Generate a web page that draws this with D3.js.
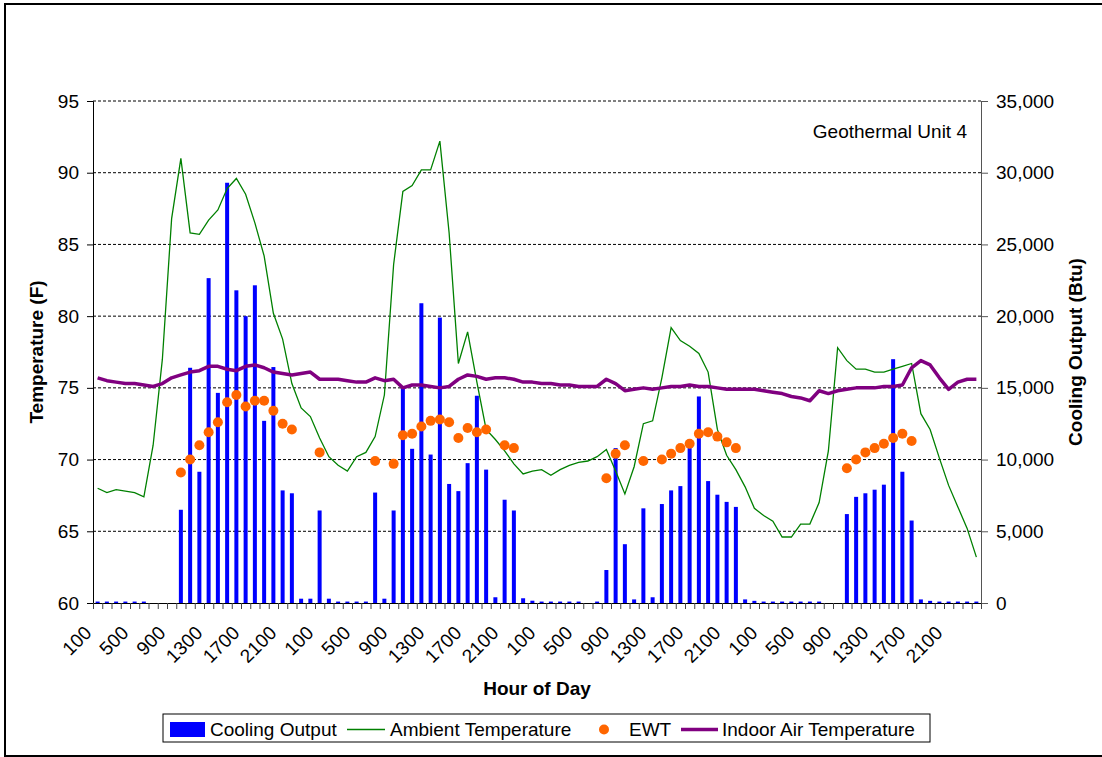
<!DOCTYPE html>
<html>
<head>
<meta charset="utf-8">
<script src="https://cdn.jsdelivr.net/npm/d3@7"></script>
<style>
  body { margin: 0; background: #fff; }
  svg text { font-family: "Liberation Sans", Arial, sans-serif; }
</style>
</head>
<body>
<script>
// hours of the day shown on the x axis (4 days, hourly)
var hourOfDay = [100, 200, 300, 400, 500, 600, 700, 800, 900, 1000, 1100, 1200,
                 1300, 1400, 1500, 1600, 1700, 1800, 1900, 2000, 2100, 2200, 2300, 2400];
var hours = [].concat(hourOfDay, hourOfDay, hourOfDay, hourOfDay);

var tempTicks = [60, 65, 70, 75, 80, 85, 90, 95];
var btuTicks = [0, 5000, 10000, 15000, 20000, 25000, 30000, 35000];

// Cooling Output (Btu)
var coolingOutput = [
  100, 100, 100, 100, 100, 100, 0, 0, 0, 6500, 16400, 9150, 22650, 14650, 29300, 21800, 20000, 22150, 12700, 16450, 7850, 7650, 300, 300,
  6450, 300, 100, 100, 100, 100, 7700, 300, 6450, 15100, 10750, 20900, 10350, 19900, 8300, 7800, 9750, 14450, 9300, 400, 7200, 6450, 330, 160,
  100, 100, 100, 100, 100, 0, 100, 2300, 10800, 4100, 250, 6600, 400, 6900, 7850, 8150, 10800, 14400, 8500, 7550, 7050, 6700, 250, 150,
  100, 100, 100, 100, 100, 100, 100, 0, 0, 6200, 7400, 7650, 7900, 8250, 17000, 9150, 5750, 250, 150, 100, 100, 100, 100, 100
];

// Ambient Temperature (F)
var ambientTemp = [
  68.0, 67.7, 67.9, 67.8, 67.7, 67.4, 71.0, 77.0, 86.8, 91.0, 85.8, 85.7, 86.7, 87.4, 88.9, 89.6, 88.5, 86.5, 84.2, 80.2, 78.4, 75.3, 73.6, 73.0,
  71.5, 70.2, 69.6, 69.2, 70.2, 70.5, 71.6, 74.5, 83.6, 88.7, 89.1, 90.2, 90.2, 92.2, 85.8, 76.7, 78.9, 75.4, 72.1, 71.4, 70.6, 69.7, 69.0, 69.2,
  69.3, 68.9, 69.3, 69.6, 69.8, 69.9, 70.2, 70.7, 69.2, 67.6, 69.5, 72.5, 72.7, 75.7, 79.2, 78.3, 77.9, 77.4, 76.1, 72.1, 70.3, 69.3, 68.1, 66.6,
  66.1, 65.7, 64.6, 64.6, 65.5, 65.5, 67.0, 70.6, 77.8, 76.9, 76.3, 76.3, 76.1, 76.1, 76.3, 76.5, 76.7, 73.2, 72.1, 70.1, 68.2, 66.7, 65.2, 63.2
];

// EWT (F), null where the unit was off
var ewt = [
  null, null, null, null, null, null, null, null, null, 69.1, 70.0, 71.0, 71.9, 72.6, 74.0, 74.5, 73.7, 74.1, 74.1, 73.4, 72.5, 72.1, null, null,
  70.5, null, null, null, null, null, 69.9, null, 69.7, 71.7, 71.8, 72.3, 72.7, 72.8, 72.6, 71.5, 72.2, 71.9, 72.1, null, 71.0, 70.8, null, null,
  null, null, null, null, null, null, null, 68.7, 70.4, 71.0, null, 69.9, null, 70.0, 70.4, 70.8, 71.1, 71.8, 71.9, 71.6, 71.2, 70.8, null, null,
  null, null, null, null, null, null, null, null, null, 69.4, 70.0, 70.5, 70.8, 71.1, 71.5, 71.8, 71.3, null, null, null, null, null, null, null
];

// Indoor Air Temperature (F)
var indoorTemp = [
  75.7, 75.5, 75.4, 75.3, 75.3, 75.2, 75.1, 75.3, 75.7, 75.9, 76.1, 76.2, 76.5, 76.5, 76.3, 76.2, 76.5, 76.6, 76.4, 76.1, 76.0, 75.9, 76.0, 76.1,
  75.6, 75.6, 75.6, 75.5, 75.4, 75.4, 75.7, 75.5, 75.6, 75.0, 75.2, 75.2, 75.1, 75.0, 75.1, 75.6, 75.9, 75.8, 75.6, 75.7, 75.7, 75.6, 75.4, 75.4,
  75.3, 75.3, 75.2, 75.2, 75.1, 75.1, 75.1, 75.6, 75.3, 74.8, 74.9, 75.0, 74.9, 75.0, 75.1, 75.1, 75.2, 75.1, 75.1, 75.0, 74.9, 74.9, 74.9, 74.9,
  74.8, 74.7, 74.6, 74.4, 74.3, 74.1, 74.8, 74.6, 74.8, 74.9, 75.0, 75.0, 75.0, 75.1, 75.1, 75.2, 76.4, 76.9, 76.6, 75.7, 74.9, 75.4, 75.6, 75.6
];

var width = 1102,
	height = 757;

var plotLeft = 93, plotRight = 981, plotTop = 101, plotBottom = 603;
var font = 19;

var svg = d3.select("body").append("svg")
	.attr("width", width)
	.attr("height", height);

// outer chart border
svg.append("rect")
	.attr("x", 5).attr("y", 4)
	.attr("width", 1102).attr("height", 752)
	.attr("fill", "none")
	.attr("stroke", "#000")
	.attr("stroke-width", 2);

var idx = d3.range(hours.length);

var xScale = d3.scaleBand()
	.domain(idx)
	.range([plotLeft, plotRight])
	.padding(0);

var xTick = d3.scaleLinear()
	.domain([0, hours.length])
	.range([plotLeft, plotRight]);

var yTemp = d3.scaleLinear()
	.domain([60, 95])
	.range([plotBottom, plotTop]);

var yBtu = d3.scaleLinear()
	.domain([0, 35000])
	.range([plotBottom, plotTop]);

function cx(i){
	return xScale(i) + xScale.bandwidth() / 2;
}

// gridlines
svg.selectAll(".grid")
	.data(tempTicks.slice(1))
	.enter()
	.append("line")
		.attr("class", "grid")
		.attr("x1", plotLeft)
		.attr("x2", plotRight)
		.attr("y1", function(d){ return yTemp(d); })
		.attr("y2", function(d){ return yTemp(d); })
		.attr("stroke", "#000")
		.attr("stroke-width", 1)
		.attr("stroke-dasharray", "3,2");

// bars
svg.selectAll(".bar")
	.data(coolingOutput)
	.enter()
	.append("rect")
		.attr("class", "bar")
		.attr("x", function(d, i){ return cx(i) - 2; })
		.attr("y", function(d){ return yBtu(d); })
		.attr("width", 4)
		.attr("height", function(d){ return plotBottom - yBtu(d); })
		.attr("fill", "#0000FF");

// ambient line
svg.append("path")
	.datum(ambientTemp)
	.attr("d", d3.line()
		.x(function(d, i){ return cx(i); })
		.y(function(d){ return yTemp(d); }))
	.attr("fill", "none")
	.attr("stroke", "#008000")
	.attr("stroke-width", 1.3);

// indoor line
svg.append("path")
	.datum(indoorTemp)
	.attr("d", d3.line()
		.x(function(d, i){ return cx(i); })
		.y(function(d){ return yTemp(d); }))
	.attr("fill", "none")
	.attr("stroke", "#800080")
	.attr("stroke-width", 3.5)
	.attr("stroke-linejoin", "round");

// EWT dots
svg.selectAll(".ewt")
	.data(ewt.map(function(d, i){ return {i: i, v: d}; }).filter(function(d){ return d.v != null; }))
	.enter()
	.append("circle")
		.attr("class", "ewt")
		.attr("cx", function(d){ return cx(d.i); })
		.attr("cy", function(d){ return yTemp(d.v); })
		.attr("r", 5)
		.attr("fill", "#FF6600");

// axes
var leftAxis = svg.append("g")
	.attr("transform", "translate(" + plotLeft + ",0)")
	.call(d3.axisLeft(yTemp).tickValues(tempTicks).tickSize(6).tickPadding(8));

var rightAxis = svg.append("g")
	.attr("transform", "translate(" + plotRight + ",0)")
	.call(d3.axisRight(yBtu).tickValues(btuTicks).tickSize(7).tickPadding(8).tickFormat(d3.format(",")));

var bottomAxis = svg.append("g")
	.attr("transform", "translate(0," + plotBottom + ")")
	.call(d3.axisBottom(xTick).tickValues(d3.range(hours.length + 1)).tickSize(6).tickFormat(""));

leftAxis.selectAll("text").attr("font-size", font).attr("fill", "#000").attr("font-family", null);
rightAxis.selectAll("text").attr("font-size", font).attr("fill", "#000").attr("font-family", null);
leftAxis.attr("font-family", null);
rightAxis.attr("font-family", null);
leftAxis.select(".domain").attr("stroke", "#000");
rightAxis.select(".domain").attr("stroke", "#555");
rightAxis.selectAll(".tick line").attr("stroke", "#555");
bottomAxis.select(".domain").attr("stroke", "#000");
bottomAxis.selectAll(".tick line").attr("stroke", "#444");

// x labels every 4 hours
svg.selectAll(".xlab")
	.data(idx.filter(function(i){ return i % 4 == 0; }))
	.enter()
	.append("text")
		.attr("class", "xlab")
		.attr("transform", function(i){
			return "translate(" + (cx(i) - 5) + "," + 634 + ") rotate(-45)";
		})
		.attr("text-anchor", "end")
		.attr("font-size", font)
		.text(function(i){ return hours[i]; });

// axis titles
svg.append("text")
	.attr("transform", "translate(43," + ((plotTop + plotBottom) / 2) + ") rotate(-90)")
	.attr("text-anchor", "middle")
	.attr("font-size", font)
	.attr("font-weight", "bold")
	.text("Temperature (F)");

svg.append("text")
	.attr("transform", "translate(1082," + ((plotTop + plotBottom) / 2) + ") rotate(-90)")
	.attr("text-anchor", "middle")
	.attr("font-size", font)
	.attr("font-weight", "bold")
	.text("Cooling Output (Btu)");

svg.append("text")
	.attr("x", (plotLeft + plotRight) / 2)
	.attr("y", 695)
	.attr("text-anchor", "middle")
	.attr("font-size", font)
	.attr("font-weight", "bold")
	.text("Hour of Day");

svg.append("text")
	.attr("x", 967)
	.attr("y", 138)
	.attr("text-anchor", "end")
	.attr("font-size", font)
	.text("Geothermal Unit 4");

// legend
var legend = svg.append("g");
legend.append("rect")
	.attr("x", 163).attr("y", 714)
	.attr("width", 767).attr("height", 28)
	.attr("fill", "#fff")
	.attr("stroke", "#000");

legend.append("rect")
	.attr("x", 170).attr("y", 722).attr("width", 35).attr("height", 15)
	.attr("fill", "#0000FF");
legend.append("line")
	.attr("x1", 347).attr("x2", 385).attr("y1", 729.5).attr("y2", 729.5)
	.attr("stroke", "#008000").attr("stroke-width", 1.3);
legend.append("circle")
	.attr("cx", 604).attr("cy", 729.5).attr("r", 5)
	.attr("fill", "#FF6600");
legend.append("line")
	.attr("x1", 681).attr("x2", 718).attr("y1", 729.5).attr("y2", 729.5)
	.attr("stroke", "#800080").attr("stroke-width", 3.5);

var legendText = [[210, "Cooling Output"], [390, "Ambient Temperature"], [629, "EWT"], [722, "Indoor Air Temperature"]];
legend.selectAll(".lt")
	.data(legendText)
	.enter()
	.append("text")
		.attr("class", "lt")
		.attr("x", function(d){ return d[0]; })
		.attr("y", 736)
		.attr("font-size", font)
		.text(function(d){ return d[1]; });
</script>
</body>
</html>
